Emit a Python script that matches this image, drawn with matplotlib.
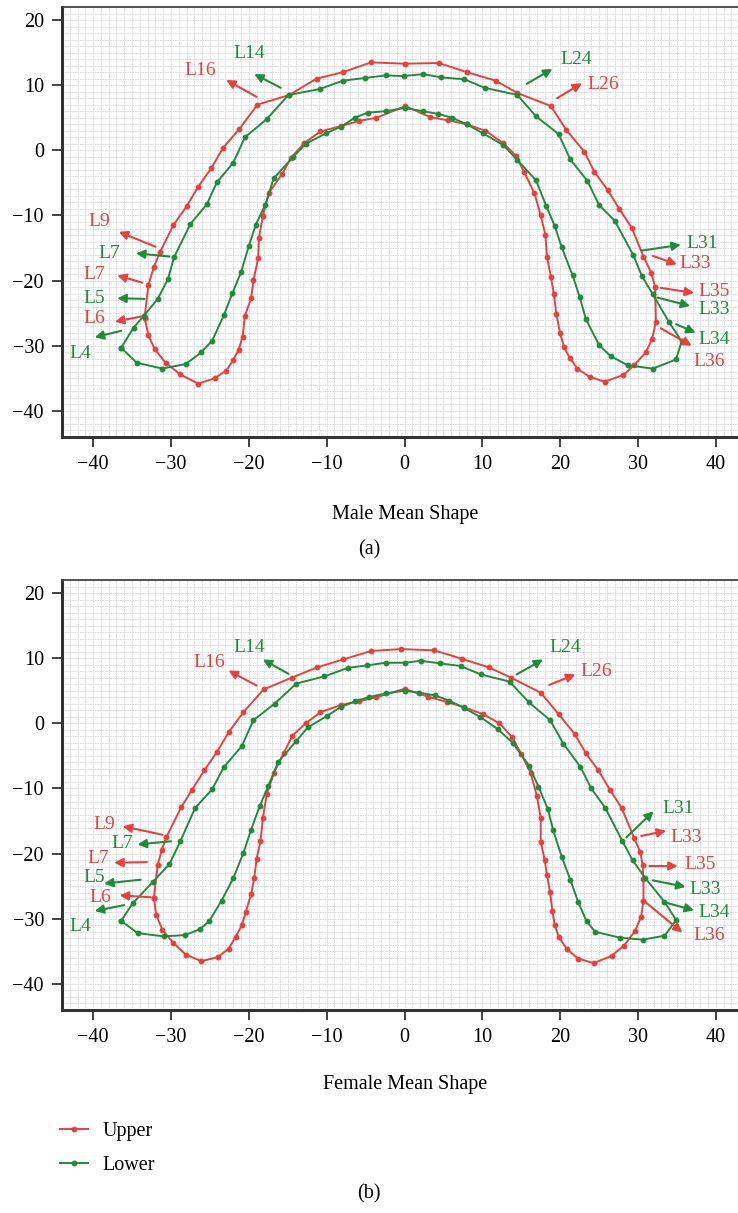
import matplotlib
matplotlib.use("Agg")
import matplotlib.pyplot as plt
from matplotlib.lines import Line2D

plt.rcParams['font.family'] = ['Liberation Serif', 'DejaVu Serif']

RED = '#e8403e'
GREEN = '#1f8c3b'

# Male mean shape (closed outlines)
male_upper_x = [-33.4, -32.9, -32.2, -31.4, -29.7, -28.0, -26.5, -24.8, -23.3, -21.2, -18.9, -14.8,
                -11.3, -7.9, -4.3, 0.0, 4.4, 8.0, 11.7, 14.5, 18.8, 20.8, 23.1, 24.4, 26.1, 27.6,
                29.2, 30.7, 31.7, 32.2, 32.3, 31.8, 31.0, 29.5, 28.1, 25.7, 23.8, 22.2, 21.2, 20.5,
                20.0, 19.5, 19.2, 18.8, 18.3, 18.1, 17.5, 16.7, 15.4, 14.3, 12.7, 10.4, 8.0, 5.6,
                3.3, 0.1, -3.6, -5.9, -8.2, -10.8, -12.9, -14.6, -15.7, -17.4, -18.2, -18.7, -18.8,
                -19.4, -19.7, -20.5, -20.8, -21.3, -22.0, -22.9, -24.4, -26.5, -28.8, -30.7, -32.1,
                -32.9]
male_upper_y = [-25.7, -20.7, -17.9, -15.6, -11.5, -8.6, -5.6, -2.7, 0.4, 3.3, 7.0, 8.5,
                11.0, 12.0, 13.5, 13.3, 13.4, 12.0, 10.7, 8.8, 6.8, 3.1, -0.2, -3.3, -6.1, -9.0,
                -11.9, -16.3, -18.8, -21.0, -26.3, -29.0, -31.0, -33.0, -34.5, -35.5, -34.8, -33.5,
                -31.8, -30.2, -28.1, -25.1, -22.1, -19.4, -16.3, -13.0, -10.0, -6.6, -3.4, -0.8,
                1.1, 3.0, 4.0, 4.6, 5.1, 6.8, 5.0, 4.5, 3.7, 2.9, 1.1, -1.2, -3.6, -6.5, -10.1,
                -13.4, -16.6, -19.9, -22.7, -25.4, -28.6, -30.6, -32.2, -33.8, -35.0, -35.8, -34.4,
                -32.6, -30.5, -28.4]

male_lower_x = [-36.4, -34.8, -33.5, -31.7, -30.4, -29.6, -27.5, -25.4, -24.1, -22.0, -20.5, -17.7,
                -14.9, -10.9, -7.9, -5.1, -2.4, -0.1, 2.4, 4.7, 7.7, 10.3, 14.5, 16.9, 19.8, 21.3,
                23.5, 25.0, 27.0, 29.4, 30.5, 31.9, 34.0, 35.6, 34.9, 31.9, 28.7, 26.5, 25.0, 23.3,
                22.5, 21.6, 20.2, 19.3, 18.2, 16.9, 14.5, 12.7, 10.1, 8.0, 6.1, 4.3, 2.4, 0.0,
                -2.4, -4.7, -6.4, -8.2, -10.1, -12.7, -14.3, -16.8, -17.9, -19.1, -20.0, -21.0,
                -22.1, -23.2, -24.7, -26.1, -28.1, -31.1, -34.4]
male_lower_y = [-30.3, -27.2, -25.4, -22.8, -19.8, -16.4, -11.3, -8.3, -4.9, -1.9, 2.0, 4.8,
                8.5, 9.4, 10.7, 11.1, 11.5, 11.4, 11.7, 11.2, 10.9, 9.6, 8.5, 5.2, 2.5, -1.4,
                -4.7, -8.4, -10.8, -16.1, -19.3, -22.1, -26.4, -29.3, -32.1, -33.5, -33.0, -31.6,
                -29.9, -25.9, -22.5, -19.2, -14.9, -11.6, -8.5, -4.6, -1.5, 0.8, 2.6, 4.0, 5.0,
                5.6, 6.0, 6.5, 6.0, 5.8, 5.0, 3.6, 2.6, 1.0, -1.0, -4.3, -8.4, -11.4, -14.7,
                -18.7, -21.9, -25.3, -29.2, -31.0, -32.8, -33.5, -32.6]

# Female mean shape
female_upper_x = [-32.2, -31.7, -31.2, -30.6, -28.7, -27.3, -25.7, -24.1, -22.6, -20.7, -18.1, -14.5,
                  -11.2, -7.9, -4.3, -0.4, 3.8, 7.4, 10.8, 13.7, 17.5, 19.8, 21.9, 23.3, 24.9, 26.4,
                  27.9, 29.5, 30.3, 30.6, 30.7, 30.7, 30.4, 29.6, 28.2, 26.6, 24.3, 22.3, 20.9, 19.8,
                  19.3, 19.0, 18.7, 18.3, 18.0, 17.5, 17.5, 17.0, 16.2, 15.0, 13.8, 12.2, 10.1, 7.6,
                  5.4, 3.0, 0.0, -3.6, -5.8, -8.2, -10.8, -12.7, -14.4, -15.5, -16.8, -17.7, -18.2,
                  -18.5, -19.0, -19.3, -19.7, -20.4, -20.9, -21.7, -22.6, -24.0, -26.1, -28.1, -29.7,
                  -31.1, -31.9]
female_upper_y = [-26.8, -21.7, -19.5, -17.5, -12.9, -10.2, -7.2, -4.4, -1.4, 1.7, 5.2, 7.0,
                  8.6, 9.8, 11.1, 11.4, 11.2, 9.9, 8.6, 7.0, 4.7, 1.4, -1.7, -4.6, -7.2, -10.2,
                  -13.0, -17.6, -19.8, -21.8, -23.9, -27.2, -29.7, -31.9, -34.1, -35.7, -36.8, -36.1,
                  -34.7, -32.8, -30.9, -28.8, -25.9, -23.3, -20.9, -18.2, -14.5, -11.1, -7.6, -4.7,
                  -2.1, 0.0, 1.4, 2.5, 3.3, 4.1, 5.3, 4.0, 3.4, 2.8, 1.7, 0.0, -1.9, -4.5, -7.7,
                  -10.9, -14.6, -18.1, -20.8, -23.7, -26.2, -29.0, -31.0, -32.8, -34.6, -35.9, -36.5,
                  -35.5, -33.7, -31.7, -29.4]

female_lower_x = [-36.4, -34.9, -32.3, -30.2, -28.8, -26.9, -24.7, -23.2, -20.9, -19.4, -16.7, -13.9,
                  -10.3, -7.3, -4.8, -2.4, 0.0, 2.1, 4.6, 7.2, 9.8, 13.5, 16.0, 18.7, 20.4, 22.6,
                  24.0, 25.8, 28.0, 29.3, 30.9, 33.4, 34.9, 33.4, 30.6, 27.7, 24.5, 23.4, 22.3, 21.3,
                  20.2, 19.1, 18.4, 17.2, 16.0, 13.9, 12.0, 9.7, 7.6, 5.7, 3.9, 1.9, 0.0, -2.4,
                  -4.6, -6.3, -8.2, -10.0, -12.4, -13.9, -16.2, -17.5, -18.6, -19.7, -20.7, -22.0,
                  -23.5, -25.1, -26.3, -28.2, -30.9, -34.3]
female_lower_y = [-30.3, -27.6, -24.3, -21.6, -18.1, -13.0, -10.1, -6.7, -3.5, 0.5, 3.0, 6.1,
                  7.2, 8.5, 8.9, 9.3, 9.3, 9.6, 9.2, 8.8, 7.5, 6.4, 3.2, 0.5, -3.1, -6.7,
                  -10.0, -13.0, -18.1, -21.0, -23.7, -27.4, -30.2, -32.6, -33.2, -32.9, -32.0, -30.4,
                  -27.4, -24.0, -20.5, -16.4, -13.1, -9.7, -6.5, -3.0, -0.9, 1.0, 2.4, 3.5, 4.3,
                  4.7, 5.0, 4.6, 4.0, 3.4, 2.5, 1.1, -0.6, -2.7, -5.9, -9.6, -12.7, -16.3, -19.9,
                  -23.8, -27.2, -30.4, -31.6, -32.5, -32.7, -32.2]

# landmark labels: (text, colour, label position, arrow tail, arrow head)
male_marks = [
    ('L14', GREEN, (-19.9, 14.9), (-15.9, 9.6), (-19.3, 11.7)),
    ('L16', RED, (-26.2, 12.2), (-19.0, 8.2), (-22.9, 10.8)),
    ('L9', RED, (-39.2, -10.9), (-32.0, -14.8), (-36.7, -12.5)),
    ('L7', GREEN, (-37.9, -15.8), (-30.2, -16.3), (-34.5, -15.8)),
    ('L7', RED, (-39.9, -19.1), (-33.7, -20.3), (-36.9, -19.2)),
    ('L5', GREEN, (-39.9, -22.8), (-33.4, -22.8), (-36.9, -22.7)),
    ('L6', RED, (-39.9, -25.8), (-33.8, -25.5), (-37.2, -26.3)),
    ('L4', GREEN, (-41.6, -31.2), (-36.4, -27.7), (-39.8, -28.7)),
    ('L24', GREEN, (22.0, 14.0), (15.7, 10.2), (19.0, 12.5)),
    ('L26', RED, (25.5, 10.1), (19.6, 8.0), (22.8, 10.3)),
    ('L31', GREEN, (38.3, -14.3), (30.4, -15.4), (35.5, -14.5)),
    ('L33', RED, (37.4, -17.4), (31.9, -16.2), (35.0, -17.5)),
    ('L35', RED, (39.8, -21.7), (32.9, -21.1), (37.2, -21.9)),
    ('L33', GREEN, (39.8, -24.4), (32.5, -22.6), (36.7, -23.9)),
    ('L34', GREEN, (39.8, -29.0), (34.9, -26.7), (37.4, -28.0)),
    ('L36', RED, (39.2, -32.4), (32.9, -27.3), (36.9, -30.0)),
]
female_marks = [
    ('L14', GREEN, (-19.9, 11.6), (-14.9, 7.6), (-18.2, 9.8)),
    ('L16', RED, (-25.1, 9.4), (-19.0, 5.8), (-22.6, 8.1)),
    ('L9', RED, (-38.6, -15.5), (-31.1, -17.1), (-36.2, -15.8)),
    ('L7', GREEN, (-36.2, -18.4), (-30.0, -18.1), (-34.3, -18.6)),
    ('L7', RED, (-39.3, -20.8), (-33.1, -21.3), (-37.3, -21.4)),
    ('L5', GREEN, (-39.9, -23.6), (-33.9, -24.0), (-38.6, -24.6)),
    ('L6', RED, (-39.1, -26.8), (-32.6, -26.7), (-36.6, -26.4)),
    ('L4', GREEN, (-41.6, -31.2), (-36.0, -27.9), (-39.8, -28.8)),
    ('L24', GREEN, (20.7, 11.6), (14.4, 7.5), (17.8, 9.8)),
    ('L26', RED, (24.6, 7.9), (18.6, 5.9), (21.95, 7.5)),
    ('L31', GREEN, (35.1, -13.0), (28.5, -17.5), (32.0, -13.5)),
    ('L33', RED, (36.2, -17.5), (30.4, -17.3), (33.6, -16.5)),
    ('L35', RED, (38.0, -21.7), (31.45, -21.9), (35.1, -21.9)),
    ('L33', GREEN, (38.6, -25.5), (31.9, -24.1), (36.1, -25.1)),
    ('L34', GREEN, (39.8, -29.1), (33.5, -27.5), (37.2, -28.7)),
    ('L36', RED, (39.2, -32.6), (30.8, -27.3), (35.7, -32.1)),
]


def closed(v):
    return list(v) + [v[0]]


def draw_panel(ax, ux, uy, lx, ly, marks):
    ax.set_facecolor('white')
    ax.plot(closed(ux), closed(uy), color=RED, lw=1.4, marker='o', ms=3.2, zorder=3)
    ax.plot(closed(lx), closed(ly), color=GREEN, lw=1.4, marker='o', ms=3.2, zorder=3)
    for name, col, txt, tail, head in marks:
        ax.annotate('', xy=head, xytext=tail,
                    arrowprops=dict(arrowstyle='-|>', color=col, lw=1.5, mutation_scale=13,
                                    shrinkA=0, shrinkB=0))
        ax.text(txt[0], txt[1], name, color=col, fontsize=14, ha='center', va='center')
    ax.set_xlim(-44, 44)
    ax.set_ylim(-44, 22)
    ax.set_xticks(range(-40, 41, 10))
    ax.set_yticks(range(-40, 21, 10))
    ax.set_xticks(range(-44, 45), minor=True)
    ax.set_yticks(range(-44, 23), minor=True)
    ax.grid(which='minor', color='#d4d4d4', lw=0.6, ls=(0, (2, 1)))
    ax.grid(which='major', color='#d4d4d4', lw=0.6, ls=(0, (2, 1)))
    ax.set_axisbelow(True)
    ax.tick_params(which='major', direction='out', length=7, width=1.2, labelsize=14.5,
                   pad=6, color='#222222')
    ax.tick_params(which='minor', length=0)
    for side in ['left', 'bottom']:
        ax.spines[side].set_linewidth(2.2)
        ax.spines[side].set_color('#333333')
    ax.spines['top'].set_linewidth(1.3)
    ax.spines['top'].set_color('#444444')
    ax.spines['right'].set_linewidth(1.3)


fig = plt.figure(figsize=(7.38, 12.13), dpi=100)
ax1 = fig.add_axes([62 / 738, 1 - 437 / 1213, 685 / 738, 430 / 1213])
ax2 = fig.add_axes([62 / 738, 1 - 1010 / 1213, 685 / 738, 430 / 1213])

draw_panel(ax1, male_upper_x, male_upper_y, male_lower_x, male_lower_y, male_marks)
draw_panel(ax2, female_upper_x, female_upper_y, female_lower_x, female_lower_y, female_marks)

fig.text(405 / 738, 1 - 514 / 1213, 'Male Mean Shape', ha='center', va='center', fontsize=14.5)
fig.text(0.5, 1 - 550 / 1213, '(a)', ha='center', va='center', fontsize=14.5)
fig.text(405 / 738, 1 - 1084 / 1213, 'Female Mean Shape', ha='center', va='center', fontsize=14.5)
fig.text(0.5, 1 - 1194 / 1213, '(b)', ha='center', va='center', fontsize=14.5)

handles = [Line2D([], [], color=RED, lw=1.4, marker='o', ms=3.2),
           Line2D([], [], color=GREEN, lw=1.4, marker='o', ms=3.2)]
fig.legend(handles, ['Upper', 'Lower'], loc='upper left',
           bbox_to_anchor=(60 / 738, 1 - 1122 / 1213), frameon=False, fontsize=14.5,
           handlelength=1.4, handletextpad=0.7, labelspacing=0.75, borderpad=0, borderaxespad=0)

fig.savefig('out.png', dpi=100)
